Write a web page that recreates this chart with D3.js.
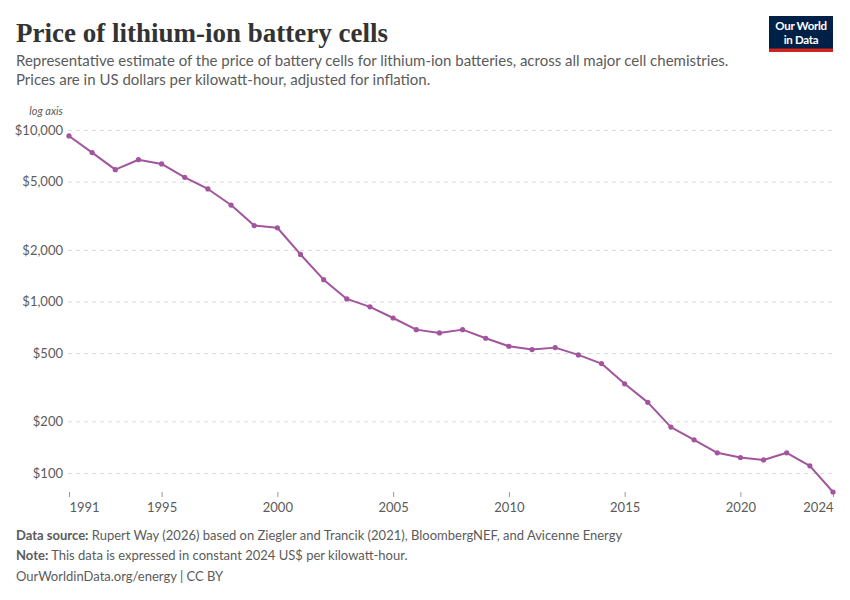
<!DOCTYPE html>
<html>

<head>
  <meta charset="UTF-8">
  <title>Price of lithium-ion battery cells</title>
  <script src="https://d3js.org/d3.v7.min.js"></script>
  <style>
    body {
      margin: 0;
      background: #fff;
    }

    svg text {
      font-family: Lato, "Noto Sans", sans-serif;
    }

    .title {
      font-family: "Liberation Serif", "DejaVu Serif", serif !important;
      font-weight: bold;
      font-size: 27px;
      fill: #333;
    }

    .subtitle {
      font-size: 15px;
      fill: #5b5b5b;
    }

    .tick-label {
      font-size: 13px;
      fill: #5b5b5b;
    }

    .footer {
      font-size: 13px;
      fill: #5b5b5b;
    }
  </style>
</head>

<body>
  <div id="chart"></div>
  <script>
    // data (2024 US$ per kWh)
    var years = [1991, 1992, 1993, 1994, 1995, 1996, 1997, 1998, 1999, 2000,
      2001, 2002, 2003, 2004, 2005, 2006, 2007, 2008, 2009, 2010,
      2011, 2012, 2013, 2014, 2015, 2016, 2017, 2018, 2019, 2020,
      2021, 2022, 2023, 2024];
    var prices = [9230, 7380, 5870, 6710, 6340, 5300, 4530, 3650, 2770, 2690,
      1880, 1340, 1035, 930, 801, 685, 655, 685, 610, 548,
      524, 538, 488, 434, 331, 258, 185, 156, 131, 123,
      119, 131, 110, 77.4];
    var yTicks = [100, 200, 500, 1000, 2000, 5000, 10000];
    var xTicks = [1991, 1995, 2000, 2005, 2010, 2015, 2020, 2024];

    var width = 850, height = 600;
    var color = "#a2559c";

    var svg = d3.select("#chart").append("svg")
      .attr("width", width)
      .attr("height", height);

    var x = d3.scaleLinear()
      .domain([d3.min(years), d3.max(years)])
      .range([69, 833]);

    var y = d3.scaleLog()
      .domain([d3.min(prices), 10000])
      .range([492, 130]);

    // header
    svg.append("text")
      .attr("class", "title")
      .attr("x", 16)
      .attr("y", 42)
      .text("Price of lithium-ion battery cells");

    var sub = svg.append("text").attr("class", "subtitle");
    sub.append("tspan").attr("x", 16).attr("y", 66)
      .text("Representative estimate of the price of battery cells for lithium-ion batteries, across all major cell chemistries.");
    sub.append("tspan").attr("x", 16).attr("y", 85)
      .text("Prices are in US dollars per kilowatt-hour, adjusted for inflation.");

    // logo
    var logo = svg.append("g").attr("transform", "translate(769,16)");
    logo.append("rect").attr("width", 64).attr("height", 36).attr("fill", "#002147");
    logo.append("rect").attr("y", 32.5).attr("width", 64).attr("height", 3.5).attr("fill", "#ce261e");
    var logoText = logo.append("text").attr("text-anchor", "middle")
      .attr("fill", "#fff").style("font-size", "11.5px").style("font-weight", "bold")
      .style("letter-spacing", "-0.3px");
    logoText.append("tspan").attr("x", 32).attr("y", 14).text("Our World");
    logoText.append("tspan").attr("x", 32).attr("y", 28).text("in Data");

    // y axis: dashed gridlines + labels
    var yAxis = svg.append("g")
      .attr("transform", "translate(68,0)")
      .call(d3.axisLeft(y).tickValues(yTicks)
        .tickSize(-(833 - 68))
        .tickPadding(5)
        .tickFormat(function (d) { return "$" + d3.format(",")(d); }));
    yAxis.select(".domain").remove();
    yAxis.selectAll(".tick line")
      .attr("stroke", "#dadada")
      .attr("stroke-dasharray", "4,4");
    yAxis.selectAll(".tick text")
      .attr("class", "tick-label")
      .attr("font-family", null)
      .attr("font-size", null)
      .attr("fill", null);

    svg.append("text")
      .attr("x", 63)
      .attr("y", 115)
      .attr("text-anchor", "end")
      .style("font-size", "11px")
      .style("font-style", "italic")
      .attr("fill", "#5b5b5b")
      .text("log axis");

    // x axis
    var xAxis = svg.append("g")
      .attr("transform", "translate(0,492)")
      .call(d3.axisBottom(x).tickValues(xTicks)
        .tickSize(5)
        .tickPadding(6)
        .tickFormat(d3.format("d")));
    xAxis.select(".domain").remove();
    xAxis.selectAll(".tick line").attr("stroke", "#999");
    xAxis.selectAll(".tick text")
      .attr("class", "tick-label")
      .attr("font-family", null)
      .attr("font-size", null)
      .attr("fill", null)
      .attr("text-anchor", function (d, i) {
        if (i === 0) return "start";
        if (i === xTicks.length - 1) return "end";
        return "middle";
      });

    // line + markers
    var series = years.map(function (yr, i) { return { year: yr, value: prices[i] }; });

    var line = d3.line()
      .x(function (d) { return x(d.year); })
      .y(function (d) { return y(d.value); });

    svg.append("path")
      .datum(series)
      .attr("fill", "none")
      .attr("stroke", color)
      .attr("stroke-width", 2)
      .attr("stroke-linejoin", "round")
      .attr("d", line);

    svg.selectAll(".dot")
      .data(series)
      .enter().append("circle")
      .attr("class", "dot")
      .attr("cx", function (d) { return x(d.year); })
      .attr("cy", function (d) { return y(d.value); })
      .attr("r", 2.6)
      .attr("fill", color);

    // footer
    var f1 = svg.append("text").attr("class", "footer").attr("x", 16).attr("y", 540);
    f1.append("tspan").style("font-weight", "bold").text("Data source:");
    f1.append("tspan").text(" Rupert Way (2026) based on Ziegler and Trancik (2021), BloombergNEF, and Avicenne Energy");

    var f2 = svg.append("text").attr("class", "footer").attr("x", 16).attr("y", 560);
    f2.append("tspan").style("font-weight", "bold").text("Note:");
    f2.append("tspan").text(" This data is expressed in constant 2024 US$ per kilowatt-hour.");

    svg.append("text").attr("class", "footer").attr("x", 16).attr("y", 581)
      .text("OurWorldinData.org/energy | CC BY");
  </script>
</body>

</html>
